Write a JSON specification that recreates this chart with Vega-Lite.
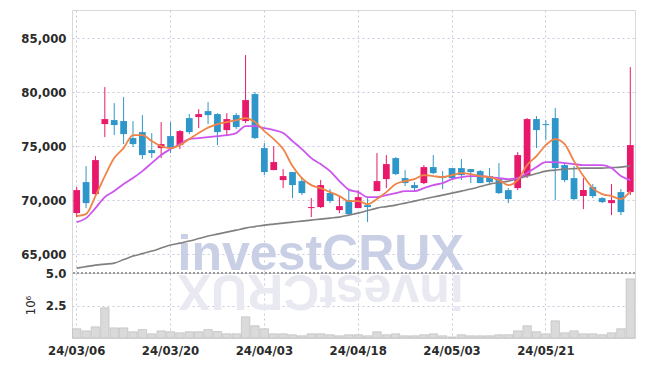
{
  "$schema": "https://vega.github.io/schema/vega-lite/v6.json",
  "padding": {"left": 20, "top": 9, "right": 10, "bottom": 0},
  "background": "white",
  "bounds": "flush",
  "datasets": {
    "k": [
      {"d":"24/03/06","o":68796,"h":71204,"l":68426,"c":70926,"v":710000,"m5":68519,"m20":67963,"m60":63704},
      {"d":"24/03/07","o":71667,"h":73148,"l":69259,"c":69722,"v":550000,"m5":68704,"m20":68333,"m60":63843},
      {"d":"24/03/08","o":70556,"h":74074,"l":70370,"c":73704,"v":860000,"m5":70370,"m20":69259,"m60":63981},
      {"d":"24/03/11","o":77037,"h":80463,"l":75833,"c":77500,"v":2320000,"m5":72222,"m20":70278,"m60":64074},
      {"d":"24/03/12","o":77407,"h":78981,"l":76019,"c":76944,"v":780000,"m5":73889,"m20":70833,"m60":64167},
      {"d":"24/03/13","o":77315,"h":79537,"l":75185,"c":76111,"v":780000,"m5":74815,"m20":71481,"m60":64491},
      {"d":"24/03/14","o":75741,"h":77315,"l":74907,"c":75185,"v":480000,"m5":76019,"m20":72037,"m60":64815},
      {"d":"24/03/15","o":76296,"h":77870,"l":73796,"c":74167,"v":650000,"m5":76019,"m20":72685,"m60":65046},
      {"d":"24/03/18","o":74630,"h":76204,"l":73889,"c":74352,"v":320000,"m5":75463,"m20":73426,"m60":65278},
      {"d":"24/03/19","o":74815,"h":77222,"l":73889,"c":75185,"v":550000,"m5":75000,"m20":74167,"m60":65556},
      {"d":"24/03/20","o":75926,"h":77222,"l":74352,"c":74815,"v":480000,"m5":74815,"m20":74722,"m60":65833},
      {"d":"24/03/21","o":75093,"h":76481,"l":74722,"c":76389,"v":400000,"m5":75093,"m20":75185,"m60":66019},
      {"d":"24/03/22","o":77593,"h":77963,"l":76111,"c":76296,"v":480000,"m5":75648,"m20":75648,"m60":66204},
      {"d":"24/03/25","o":77685,"h":78426,"l":76667,"c":77963,"v":480000,"m5":76204,"m20":75741,"m60":66435},
      {"d":"24/03/26","o":78241,"h":79074,"l":77037,"c":77870,"v":650000,"m5":76713,"m20":75833,"m60":66667},
      {"d":"24/03/27","o":77963,"h":78056,"l":75093,"c":76296,"v":500000,"m5":77037,"m20":75926,"m60":66852},
      {"d":"24/03/28","o":76481,"h":78056,"l":75926,"c":77500,"v":320000,"m5":77222,"m20":76019,"m60":67037},
      {"d":"24/03/29","o":77870,"h":78056,"l":76574,"c":76759,"v":320000,"m5":77407,"m20":76204,"m60":67222},
      {"d":"24/04/01","o":77315,"h":83426,"l":77130,"c":79259,"v":1630000,"m5":77593,"m20":76852,"m60":67407},
      {"d":"24/04/02","o":79815,"h":80000,"l":75648,"c":75741,"v":940000,"m5":77222,"m20":76852,"m60":67546},
      {"d":"24/04/03","o":74815,"h":75278,"l":72315,"c":72593,"v":710000,"m5":76389,"m20":76667,"m60":67685},
      {"d":"24/04/04","o":72778,"h":75000,"l":72778,"c":73519,"v":320000,"m5":75648,"m20":76481,"m60":67778},
      {"d":"24/04/05","o":71852,"h":72870,"l":71111,"c":72222,"v":320000,"m5":74722,"m20":76204,"m60":67870},
      {"d":"24/04/08","o":72593,"h":72593,"l":70185,"c":71389,"v":250000,"m5":73148,"m20":75463,"m60":67963},
      {"d":"24/04/09","o":71759,"h":72130,"l":70463,"c":70648,"v":170000,"m5":72037,"m20":74722,"m60":68056},
      {"d":"24/04/11","o":69259,"h":70185,"l":68426,"c":69352,"v":320000,"m5":71389,"m20":73889,"m60":68148},
      {"d":"24/04/12","o":69352,"h":71852,"l":69259,"c":71389,"v":320000,"m5":71111,"m20":73333,"m60":68241},
      {"d":"24/04/15","o":70648,"h":71019,"l":69722,"c":69907,"v":250000,"m5":70741,"m20":72685,"m60":68333},
      {"d":"24/04/16","o":69074,"h":70278,"l":68796,"c":69444,"v":170000,"m5":70370,"m20":71759,"m60":68426},
      {"d":"24/04/17","o":70000,"h":71019,"l":68611,"c":68704,"v":250000,"m5":69907,"m20":70972,"m60":68611},
      {"d":"24/04/18","o":69259,"h":70926,"l":69259,"c":70278,"v":250000,"m5":69907,"m20":70741,"m60":68796},
      {"d":"24/04/19","o":69537,"h":70185,"l":67963,"c":69352,"v":170000,"m5":69630,"m20":70278,"m60":69028},
      {"d":"24/04/22","o":70833,"h":74352,"l":70833,"c":71759,"v":480000,"m5":70093,"m20":70278,"m60":69259},
      {"d":"24/04/23","o":71944,"h":74167,"l":71111,"c":73333,"v":250000,"m5":70741,"m20":70463,"m60":69398},
      {"d":"24/04/24","o":73889,"h":73981,"l":72315,"c":72407,"v":320000,"m5":71481,"m20":70648,"m60":69537},
      {"d":"24/04/25","o":72037,"h":72778,"l":71296,"c":71574,"v":170000,"m5":71759,"m20":70833,"m60":69722},
      {"d":"24/04/26","o":71389,"h":71667,"l":70741,"c":71111,"v":170000,"m5":71944,"m20":70833,"m60":69907},
      {"d":"24/04/29","o":71574,"h":73241,"l":71481,"c":73056,"v":250000,"m5":72315,"m20":71111,"m60":70093},
      {"d":"24/04/30","o":73056,"h":74167,"l":72407,"c":72500,"v":320000,"m5":72222,"m20":71389,"m60":70278},
      {"d":"24/05/02","o":72222,"h":72685,"l":71019,"c":72037,"v":170000,"m5":72130,"m20":71574,"m60":70463},
      {"d":"24/05/03","o":72963,"h":72963,"l":71944,"c":72037,"v":80000,"m5":72315,"m20":71944,"m60":70648},
      {"d":"24/05/07","o":72963,"h":73796,"l":71852,"c":72315,"v":250000,"m5":72500,"m20":72130,"m60":70833},
      {"d":"24/05/08","o":72870,"h":72870,"l":71574,"c":72593,"v":170000,"m5":72407,"m20":72222,"m60":71019},
      {"d":"24/05/09","o":72685,"h":72778,"l":71574,"c":71574,"v":170000,"m5":72222,"m20":72222,"m60":71250},
      {"d":"24/05/10","o":72222,"h":72963,"l":71574,"c":71667,"v":170000,"m5":72130,"m20":72130,"m60":71481},
      {"d":"24/05/13","o":71944,"h":73426,"l":70556,"c":70648,"v":250000,"m5":71852,"m20":72037,"m60":71620},
      {"d":"24/05/14","o":70926,"h":71111,"l":69722,"c":70093,"v":250000,"m5":71389,"m20":71944,"m60":71759},
      {"d":"24/05/16","o":71111,"h":74444,"l":70926,"c":74167,"v":550000,"m5":71852,"m20":72037,"m60":71991},
      {"d":"24/05/17","o":72222,"h":77593,"l":72037,"c":77500,"v":940000,"m5":73241,"m20":72500,"m60":72222},
      {"d":"24/05/20","o":77500,"h":77778,"l":74815,"c":76481,"v":480000,"m5":74074,"m20":73056,"m60":72454},
      {"d":"24/05/21","o":77037,"h":77407,"l":75556,"c":76944,"v":320000,"m5":75093,"m20":73519,"m60":72685},
      {"d":"24/05/22","o":77593,"h":78519,"l":70000,"c":72963,"v":1320000,"m5":75648,"m20":73519,"m60":72778},
      {"d":"24/05/23","o":73241,"h":73426,"l":71667,"c":71852,"v":400000,"m5":75185,"m20":73426,"m60":72870},
      {"d":"24/05/24","o":72037,"h":73148,"l":70000,"c":70093,"v":550000,"m5":73611,"m20":73333,"m60":72917},
      {"d":"24/05/27","o":70370,"h":72037,"l":69167,"c":70926,"v":320000,"m5":72222,"m20":73241,"m60":72963},
      {"d":"24/05/28","o":71204,"h":71481,"l":70185,"c":70370,"v":320000,"m5":71111,"m20":73241,"m60":72963},
      {"d":"24/05/29","o":70185,"h":70278,"l":69722,"c":69815,"v":250000,"m5":70556,"m20":73241,"m60":72963},
      {"d":"24/05/30","o":69722,"h":71481,"l":68611,"c":70000,"v":400000,"m5":70370,"m20":72963,"m60":73009},
      {"d":"24/05/31","o":70741,"h":71019,"l":68611,"c":68889,"v":710000,"m5":70093,"m20":72222,"m60":73056},
      {"d":"24/06/03","o":70741,"h":82315,"l":70463,"c":75093,"v":4550000,"m5":70833,"m20":71852,"m60":73148}
    ]
  },
  "config": {
    "view": {"stroke": "#d9d9d9", "strokeWidth": 1},
    "axis": {
      "labelFont": "DejaVu Sans Condensed",
      "labelFontSize": 13,
      "labelFontWeight": "bold",
      "labelColor": "#2b2b2b",
      "titleFont": "DejaVu Sans Condensed",
      "titleColor": "#2b2b2b",
      "gridColor": "#c9c9dc",
      "gridDash": [2, 3],
      "gridWidth": 1,
      "domain": false,
      "ticks": false
    }
  },
  "spacing": 0,
  "vconcat": [
    {
      "width": 563,
      "height": 263,
      "data": {"name": "k"},
      "encoding": {
        "x": {"field": "d", "type": "ordinal", "sort": null,
              "scale": {"paddingInner": 0, "paddingOuter": 0},
              "axis": {"labels": false, "title": null, "grid": true,
                       "values": ["24/03/06","24/03/20","24/04/03","24/04/18","24/05/03","24/05/21"]}}
      },
      "layer": [
        {
          "mark": {"type": "text", "font": "Liberation Sans", "fontWeight": "bold", "fontSize": 50,
                   "color": "#c9d0e6", "align": "center", "baseline": "alphabetic"},
          "encoding": {
            "y": {"datum": 63500, "type": "quantitative",
                  "scale": {"domain": [63250, 87600], "zero": false, "nice": false},
                  "axis": {"title": null, "values": [65000, 70000, 75000, 80000, 85000], "format": ",.0f", "labelPadding": 6, "grid": true}},
            "text": {"condition": {"test": "datum.d == '24/04/12'", "value": "investCRUX"}, "value": ""}
          }
        },
        {
          "mark": {"type": "rule", "strokeWidth": 1},
          "encoding": {
            "y": {"field": "l", "type": "quantitative"},
            "y2": {"field": "h"},
            "color": {"condition": {"test": "datum.c >= datum.o", "value": "#e8196a"}, "value": "#2f96c9"}
          }
        },
        {
          "mark": {"type": "bar", "width": {"band": 0.72}},
          "encoding": {
            "y": {"field": "o", "type": "quantitative"},
            "y2": {"field": "c"},
            "color": {"condition": {"test": "datum.c >= datum.o", "value": "#e8196a"}, "value": "#2f96c9"}
          }
        },
        {
          "mark": {"type": "line", "color": "#808080", "strokeWidth": 1.6, "interpolate": "monotone"},
          "encoding": {"y": {"field": "m60", "type": "quantitative"}}
        },
        {
          "mark": {"type": "line", "color": "#cc55ee", "strokeWidth": 1.8, "interpolate": "monotone"},
          "encoding": {"y": {"field": "m20", "type": "quantitative"}}
        },
        {
          "mark": {"type": "line", "color": "#ef8446", "strokeWidth": 1.8, "interpolate": "monotone"},
          "encoding": {"y": {"field": "m5", "type": "quantitative"}}
        }
      ]
    },
    {
      "width": 563,
      "height": 65,
      "data": {"name": "k"},
      "layer": [
        {
          "mark": {"type": "text", "font": "Liberation Sans", "fontWeight": "bold", "fontSize": 50,
                   "color": "#e9e9f1", "align": "center", "baseline": "alphabetic", "angle": 180},
          "encoding": {
            "x": {"field": "d", "type": "ordinal", "sort": null,
                  "scale": {"paddingInner": 0, "paddingOuter": 0},
                  "axis": {"title": null, "grid": true, "labelAngle": 0, "labelPadding": 6,
                           "values": ["24/03/06","24/03/20","24/04/03","24/04/18","24/05/03","24/05/21"]}},
            "y": {"datum": 4850000, "type": "quantitative",
                  "scale": {"domain": [0, 5000000], "nice": false},
                  "axis": {"title": "10⁶", "titleFontSize": 13, "titleFontWeight": "normal", "titlePadding": 8,
                           "titleY": 32,
                           "values": [2500000, 5000000], "labelExpr": "format(datum.value / 1000000, '.1f')",
                           "labelPadding": 6, "grid": true}},
            "text": {"condition": {"test": "datum.d == '24/04/12'", "value": "investCRUX"}, "value": ""}
          }
        },
        {
          "mark": {"type": "bar", "width": {"band": 0.9}, "color": "#dadada", "stroke": "#b8b8b8", "strokeWidth": 0.6},
          "encoding": {
            "x": {"field": "d", "type": "ordinal", "sort": null},
            "y": {"field": "v", "type": "quantitative"}
          }
        },
        {
          "mark": {"type": "rule", "color": "#9a9a9a", "strokeDash": [2, 2], "strokeWidth": 1},
          "encoding": {"y": {"datum": 5000000, "type": "quantitative"}}
        }
      ]
    }
  ]
}
